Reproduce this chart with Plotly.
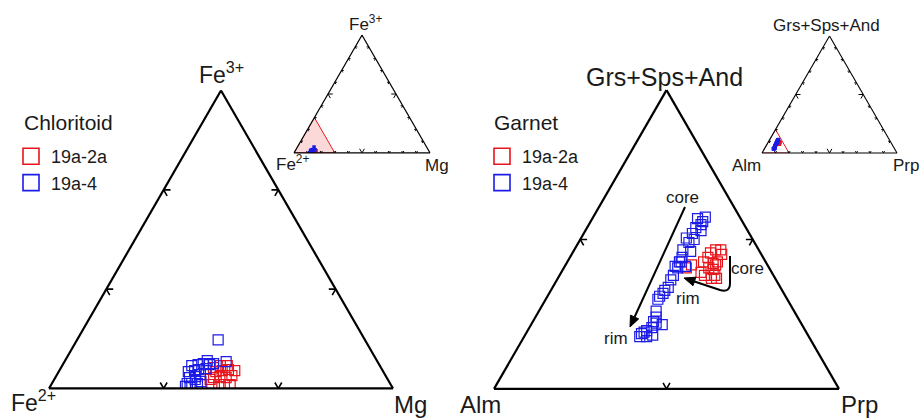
import math
import plotly.graph_objects as go

W, H = 922, 418

# ---------------- data (mol %) ----------------
# Chloritoid: Fe3+ (apex), Fe2+ (left), Mg (right)
CTD_2A_FE3 = [0.4, 0.4, 0.4, 0.4, 1.1, 1.2, 1.1, 1.3, 1.7, 1.8, 1.9, 1.8, 2.3, 2.1, 2.3, 0.9]
CTD_2A_MG = [14.0, 14.6, 15.1, 15.6, 13.8, 14.3, 14.9, 15.3, 13.7, 14.2, 14.7, 15.3, 13.8, 13.3, 14.4, 13.6]
CTD_2A_FE2 = [85.6, 85.0, 84.5, 84.0, 85.1, 84.5, 84.0, 83.4, 84.6, 84.0, 83.4, 82.9, 83.9, 84.6, 83.3, 85.5]

CTD_4_FE3 = [0.5, 0.5, 0.5, 1.1, 1.2, 1.7, 1.8, 1.9, 2.3, 2.4, 2.5, 2.0, 1.4, 2.4, 2.5, 0.9, 0.7, 0.2, 4.9, 2.7, 0.2, 2.8]
CTD_4_MG = [11.8, 12.2, 12.7, 11.7, 12.2, 11.3, 11.8, 12.1, 11.3, 11.8, 12.2, 12.7, 12.5, 12.8, 13.1, 12.3, 12.9, 11.8, 12.3, 14.1, 12.2, 12.4]
CTD_4_FE2 = [87.7, 87.3, 86.8, 87.2, 86.6, 87.0, 86.4, 86.0, 86.4, 85.8, 85.3, 85.3, 86.1, 84.8, 84.4, 86.8, 86.4, 88.0, 82.8, 83.2, 87.6, 84.8]

# Garnet: Grs+Sps+And (apex), Alm (left), Prp (right)
GRT_2A_GSA = [8.1, 8.3, 7.8, 8.5, 8.8, 9.1, 9.3, 9.3, 8.0, 7.6, 7.4, 7.4, 8.1, 7.6, 8.4, 8.3, 9.0, 8.5]
GRT_2A_PRP = [7.1, 7.3, 8.1, 7.9, 8.0, 8.0, 8.2, 8.5, 8.7, 9.0, 9.2, 8.9, 8.4, 8.4, 8.5, 8.7, 8.7, 8.7]
GRT_2A_ALM = [84.8, 84.4, 84.1, 83.6, 83.2, 82.9, 82.5, 82.2, 83.3, 83.4, 83.4, 83.7, 83.5, 84.0, 83.1, 83.0, 82.3, 82.8]

GRT_4_GSA = [3.7, 3.9, 4.1, 4.4, 4.3, 3.5, 3.6, 3.5, 6.0, 6.2, 6.6, 6.8, 7.6, 8.2, 8.5, 8.8, 9.3, 9.8, 10.1, 10.4,
             10.8, 11.0, 11.2, 11.4, 11.5, 10.6, 10.0, 9.2, 8.2, 7.3, 6.4, 5.2, 3.8, 4.5, 4.8, 8.1, 8.5]
GRT_4_PRP = [6.7, 6.9, 7.1, 7.2, 7.6, 7.1, 7.4, 6.7, 6.5, 6.5, 6.6, 6.7, 6.6, 6.4, 6.5, 6.5, 6.3, 6.4, 6.1, 6.3,
             6.3, 6.5, 6.5, 6.1, 6.5, 6.7, 6.6, 6.8, 7.0, 6.6, 6.6, 6.8, 6.8, 7.0, 7.0, 6.6, 6.6]
GRT_4_ALM = [89.6, 89.2, 88.8, 88.4, 88.1, 89.4, 89.0, 89.8, 87.5, 87.3, 86.8, 86.5, 85.8, 85.4, 85.0, 84.7, 84.4, 83.8, 83.8, 83.3,
             82.9, 82.5, 82.3, 82.5, 82.0, 82.7, 83.4, 84.0, 84.8, 86.1, 87.0, 88.0, 89.4, 88.5, 88.2, 85.3, 84.9]

SAMPLES = ["19a-2a", "19a-4"]
RED = "#e8161c"
BLUE = "#1c1ce6"
INK = "#1a1a1a"

# zoom windows (minimum of left-corner component) and tick step
CTD_FE2_MIN = 70
GRT_ALM_MIN = 80
TICK_STEP = 10

FONT = "Liberation Sans, Arial, sans-serif"


def P(x, y):
    return x / W, 1 - y / H


def chevrons(amin, bmin, cmin, span, step, d, dmid=None):
    A, B, C = [], [], []

    def add(*pts):
        for p in pts:
            A.append(p[0]); B.append(p[1]); C.append(p[2])
        A.append(None); B.append(None); C.append(None)

    t = step
    while t < span - 1e-9:
        dd = dmid if (dmid and abs(t - span / 2) < 1e-9) else d
        a0, c0 = amin, cmin + t                       # bottom edge
        b0 = 100 - a0 - c0
        add((a0 + dd, b0, c0 - dd), (a0, b0, c0), (a0 + dd, b0 - dd, c0))
        a0, c0 = amin + t, cmin                       # left edge
        b0 = 100 - a0 - c0
        add((a0, b0 - dd, c0 + dd), (a0, b0, c0), (a0 - dd, b0, c0 + dd))
        a0, b0 = amin + t, bmin                       # right edge
        c0 = 100 - a0 - b0
        add((a0, b0 + dd, c0 - dd), (a0, b0, c0), (a0 - dd, b0 + dd, c0))
        t += step
    return A, B, C


fig = go.Figure()

# ---------- inset region highlights ----------
fig.add_trace(go.Scatterternary(
    a=[0, 0, 100 - CTD_FE2_MIN, 0], b=[100, CTD_FE2_MIN, CTD_FE2_MIN, 100],
    c=[0, 100 - CTD_FE2_MIN, 0, 0], mode="lines", fill="toself",
    fillcolor="rgba(240,80,80,0.22)", line=dict(color=RED, width=1),
    subplot="ternary2", showlegend=False, hoverinfo="skip"))
fig.add_trace(go.Scatterternary(
    a=[0, 0, 100 - GRT_ALM_MIN, 0], b=[100, GRT_ALM_MIN, GRT_ALM_MIN, 100],
    c=[0, 100 - GRT_ALM_MIN, 0, 0], mode="lines",
    line=dict(color=RED, width=1),
    subplot="ternary4", showlegend=False, hoverinfo="skip"))

# ---------- tick chevrons ----------
for sub, mins, span, d, dmid, lw in [
    ("ternary", (0, CTD_FE2_MIN, 0), 100 - CTD_FE2_MIN, 0.6, None, 1.6),
    ("ternary2", (0, 0, 0), 100, 1.6, 3.5, 1.0),
    ("ternary3", (0, GRT_ALM_MIN, 0), 100 - GRT_ALM_MIN, 0.4, None, 1.6),
    ("ternary4", (0, 0, 0), 100, 1.6, 3.5, 1.0),
]:
    A, B, C = chevrons(mins[0], mins[1], mins[2], span, TICK_STEP, d, dmid)
    fig.add_trace(go.Scatterternary(a=A, b=B, c=C, mode="lines", connectgaps=False,
                                    line=dict(color="black", width=lw),
                                    subplot=sub, showlegend=False, hoverinfo="skip"))

# ---------- data ----------
series = [
    ("ternary", "ternary2", CTD_2A_FE3, CTD_2A_FE2, CTD_2A_MG, RED, SAMPLES[0]),
    ("ternary", "ternary2", CTD_4_FE3, CTD_4_FE2, CTD_4_MG, BLUE, SAMPLES[1]),
    ("ternary3", "ternary4", GRT_2A_GSA, GRT_2A_ALM, GRT_2A_PRP, RED, SAMPLES[0]),
    ("ternary3", "ternary4", GRT_4_GSA, GRT_4_ALM, GRT_4_PRP, BLUE, SAMPLES[1]),
]
for main, inset, a, b, c, col, name in series:
    fig.add_trace(go.Scatterternary(
        a=a, b=b, c=c, mode="markers", name=name, subplot=main, showlegend=False,
        marker=dict(symbol="square-open", size=10, color=col, line=dict(width=1.2, color=col))))
    fig.add_trace(go.Scatterternary(
        a=a, b=b, c=c, mode="markers", name=name, subplot=inset, showlegend=False,
        marker=dict(symbol="square", size=3.5, color=col, line=dict(width=0))))

# legend entries
for lg, sub in [("legend", "ternary"), ("legend2", "ternary3")]:
    for name, col in [(SAMPLES[0], RED), (SAMPLES[1], BLUE)]:
        fig.add_trace(go.Scatterternary(
            a=[None], b=[None], c=[None], mode="markers", name=name, subplot=sub,
            legend=lg, showlegend=True,
            marker=dict(symbol="square-open", size=16, color=col, line=dict(width=1.6, color=col))))


def tern(x0, x1, ytop, ybot, mins, lw):
    def ax(m):
        return dict(min=m, showgrid=False, showline=True, linecolor="black", linewidth=lw,
                    ticks="", showticklabels=False, title=dict(text=""))
    return dict(sum=100, domain=dict(x=[x0 / W, x1 / W], y=[1 - ybot / H, 1 - ytop / H]),
                bgcolor="rgba(0,0,0,0)",
                aaxis=ax(mins[0]), baxis=ax(mins[1]), caxis=ax(mins[2]))


ann = []


def label(text, x, y, size, xanchor="center"):
    px, py = P(x, y)
    ann.append(dict(text=text, x=px, y=py, xref="paper", yref="paper", showarrow=False,
                    xanchor=xanchor, yanchor="middle", font=dict(size=size, color=INK, family=FONT)))


# main corner labels
label("Fe<sup>3+</sup>", 221, 73, 23)
label("Fe<sup>2+</sup>", 33, 401, 23)
label("Mg", 410, 404, 24)
label("Grs+Sps+And", 664, 77, 25)
label("Alm", 481, 404, 24)
label("Prp", 859, 404, 24)
# inset labels
label("Fe<sup>3+</sup>", 365, 23, 17)
label("Fe<sup>2+</sup>", 292, 163, 17)
label("Mg", 437, 166, 17)
label("Grs+Sps+And", 826, 26, 17)
label("Alm", 746, 166, 17)
label("Prp", 906, 166, 17)
# legend titles
label("Chloritoid", 22, 123, 21, xanchor="left")
label("Garnet", 492, 123, 21, xanchor="left")
# core / rim
label("core", 682, 197, 17)
label("rim", 616, 338, 17)
label("core", 747, 268, 17)
label("rim", 688, 298, 17)


def pp(x, y):
    a, b = P(x, y)
    return f"{a:.5f},{b:.5f}"


def head(tail, tip, length=11, half=4.5):
    ux, uy = tip[0] - tail[0], tip[1] - tail[1]
    n = math.hypot(ux, uy)
    ux, uy = ux / n, uy / n
    bx, by = tip[0] - length * ux, tip[1] - length * uy
    nx, ny = -uy, ux
    p1 = (bx + half * nx, by + half * ny)
    p2 = (bx - half * nx, by - half * ny)
    return (bx, by), f"M {pp(*tip)} L {pp(*p1)} L {pp(*p2)} Z"


shapes = []
# straight arrow core -> rim (garnet 19a-4)
base, hp = head((685, 207), (630, 327))
shapes.append(dict(type="path", path=f"M {pp(685, 207)} L {pp(*base)}", xref="paper", yref="paper",
                   line=dict(color="black", width=2)))
shapes.append(dict(type="path", path=hp, xref="paper", yref="paper", fillcolor="black",
                   line=dict(color="black", width=1)))
# curved arrow core -> rim (garnet 19a-2a)
base, hp = head((720, 290), (684, 278))
shapes.append(dict(type="path",
                   path=f"M {pp(730, 256)} L {pp(730, 283)} Q {pp(730, 293)} {pp(720, 290)} L {pp(*base)}",
                   xref="paper", yref="paper", line=dict(color="black", width=2)))
shapes.append(dict(type="path", path=hp, xref="paper", yref="paper", fillcolor="black",
                   line=dict(color="black", width=1)))

fig.update_layout(
    width=W, height=H, margin=dict(l=0, r=0, t=0, b=0),
    paper_bgcolor="white", plot_bgcolor="white",
    font=dict(family=FONT, color=INK),
    ternary=tern(49, 393, 90, 389, (0, CTD_FE2_MIN, 0), 2.2),
    ternary2=tern(294, 430, 35, 153, (0, 0, 0), 1.1),
    ternary3=tern(494, 839, 90, 389, (0, GRT_ALM_MIN, 0), 2.2),
    ternary4=tern(762, 897, 36, 153, (0, 0, 0), 1.1),
    legend=dict(x=11 / W, y=1 - 138 / H, xanchor="left", yanchor="top",
                font=dict(size=18, family=FONT, color=INK), bgcolor="rgba(0,0,0,0)",
                itemclick=False, itemdoubleclick=False),
    legend2=dict(x=482 / W, y=1 - 138 / H, xanchor="left", yanchor="top",
                 font=dict(size=18, family=FONT, color=INK), bgcolor="rgba(0,0,0,0)",
                 itemclick=False, itemdoubleclick=False),
    annotations=ann,
    shapes=shapes,
)

fig.write_html("out.html", config={"displayModeBar": False},
               post_script="document.body.style.margin='0';")
